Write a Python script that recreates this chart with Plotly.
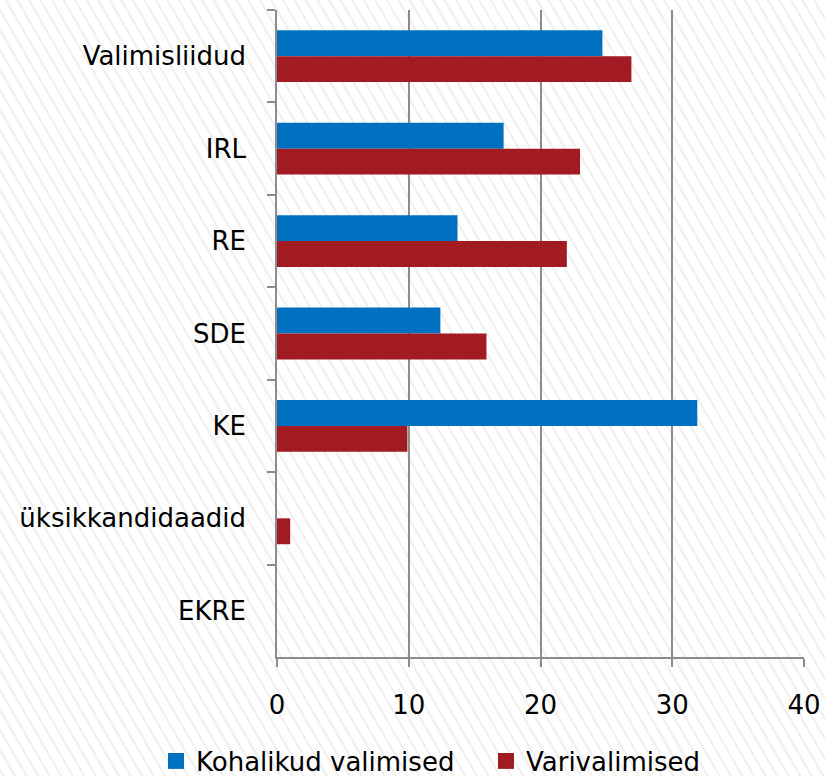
import base64
import plotly.graph_objects as go

categories = ["Valimisliidud", "IRL", "RE", "SDE", "KE", "üksikkandidaadid", "EKRE"]
kohalikud = [24.7, 17.2, 13.7, 12.4, 31.9, 0, 0]
varivalimised = [26.9, 23.0, 22.0, 15.9, 9.9, 1.0, 0]
series_names = ["Kohalikud valimised", "Varivalimised"]
series_colors = ["#0070C0", "#A21A22"]
x_ticks = [0, 10, 20, 30, 40]

W, H = 825, 776
ML, MR, MT, MB = 277, 21, 10, 119
PW, PH = W - ML - MR, H - MT - MB

svg = f'''<svg xmlns="http://www.w3.org/2000/svg" width="{W}" height="{H}">
<defs><pattern id="p" width="10" height="40" patternUnits="userSpaceOnUse" patternTransform="rotate(-30)">
<rect width="10" height="40" fill="#ffffff"/>
<line x1="5" y1="-5" x2="5" y2="45" stroke="#ebebeb" stroke-width="1.6"/>
</pattern></defs>
<rect width="{W}" height="{H}" fill="url(#p)"/></svg>'''
uri = "data:image/svg+xml;base64," + base64.b64encode(svg.encode()).decode()

FONT = dict(family="DejaVu Sans", size=26, color="#000000")

fig = go.Figure()
for vals, name, col in [(kohalikud, series_names[0], series_colors[0]),
                        (varivalimised, series_names[1], series_colors[1])]:
    fig.add_trace(go.Bar(y=categories, x=vals, orientation="h", name=name,
                         marker=dict(color=col, line=dict(width=0)), showlegend=False))
for name, col, lg in zip(series_names, series_colors, ["legend", "legend2"]):
    fig.add_trace(go.Scatter(x=[None], y=[None], mode="markers", name=name,
                             marker=dict(symbol="square", size=19, color=col),
                             showlegend=True, legend=lg))

legend_common = dict(orientation="h", xref="container", yref="paper",
                     y=(657 - 761) / PH, xanchor="left", yanchor="middle",
                     font=FONT, bgcolor="rgba(0,0,0,0)", itemwidth=30)

fig.update_layout(
    width=W, height=H,
    margin=dict(l=ML, r=MR, t=MT, b=MB, autoexpand=False),
    paper_bgcolor="#ffffff",
    plot_bgcolor="rgba(0,0,0,0)",
    barmode="group", bargap=0.44, bargroupgap=0,
    font=FONT,
    showlegend=True,
    legend=dict(x=156 / W, **legend_common),
    legend2=dict(x=486 / W, **legend_common),
    images=[dict(source=uri, xref="paper", yref="paper",
                 x=-ML / PW, y=1 + MT / PH, sizex=W / PW, sizey=H / PH,
                 xanchor="left", yanchor="top", sizing="stretch", layer="below")],
)
fig.update_xaxes(range=[0, 40], tickvals=x_ticks, ticktext=[str(v) for v in x_ticks],
                 showgrid=True, gridcolor="#8c8c8c", gridwidth=1.5,
                 showline=True, linecolor="#8c8c8c", linewidth=1.5,
                 ticks="outside", ticklen=8, tickcolor="#8c8c8c", tickwidth=1.5,
                 ticklabelstandoff=16, zeroline=False, fixedrange=True)
fig.update_yaxes(categoryorder="array", categoryarray=categories, autorange="reversed",
                 showgrid=False, showline=True, linecolor="#8c8c8c", linewidth=1.5,
                 ticks="outside", ticklen=8, tickcolor="#8c8c8c", tickwidth=1.5,
                 tickson="boundaries", ticklabelstandoff=24, fixedrange=True)

fig.write_html("out.html", config={"displayModeBar": False},
               post_script="document.body.style.margin='0px';document.body.style.overflow='hidden';")
